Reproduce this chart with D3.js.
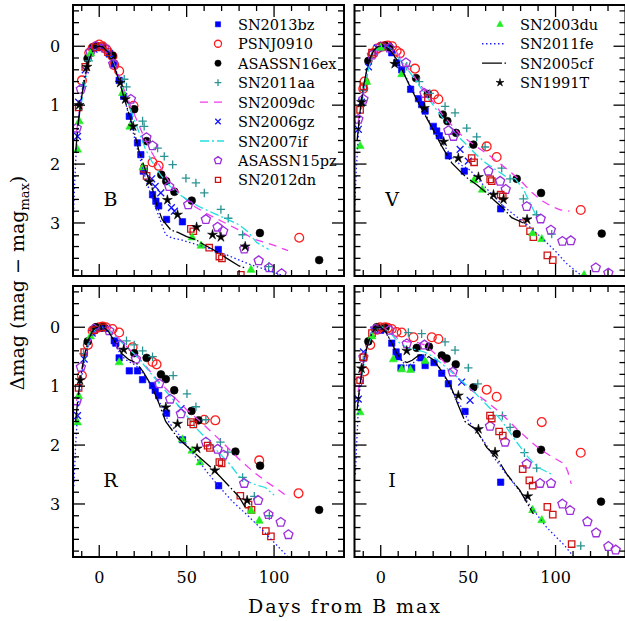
<!DOCTYPE html>
<html>
<head>
<meta charset="utf-8">
<script src="https://cdn.jsdelivr.net/npm/d3@7"></script>
<style>
  body { margin: 0; background: #fff; }
  svg { display: block; }
</style>
</head>
<body>
<div id="chart"></div>
<script>
// ---- data: [days from B max, delta mag] per band ----
const bands = ['B', 'V', 'R', 'I'];
const xTicks = [0, 50, 100];
const yTicks = [0, 1, 2, 3];

const sn2013bz = {
  B: [[-1,0.02],[2,0.02],[5.7,0.13],[8.5,0.3],[11.4,0.58],[14,0.85],[17.2,1.19],[21.9,1.64],[23.8,1.84],[25.2,2.12],[30.5,2.52],[32.4,2.63],[34,2.71],[38.5,2.94],[47.6,2.98],[68.1,3.45]],
  V: [[2,0.0],[6.3,0.11],[9.1,0.28],[12,0.4],[17.1,0.73],[21.6,0.89],[23.4,0.99],[25.4,1.1],[30.1,1.36],[32,1.44],[33.5,1.52],[38.7,1.86],[47.8,2.12],[68.6,2.76]],
  R: [[2,0.0],[8.6,0.23],[9.5,0.27],[11.4,0.52],[17.2,0.74],[21.9,0.74],[24.8,0.89],[30.5,0.99],[32,1.07],[34,1.16],[38.5,1.46],[47.6,1.91],[68.3,2.69]],
  I: [[0,0.05],[6.3,0.27],[8.8,0.42],[10,0.5],[11.6,0.69],[17.7,0.69],[22.9,0.52],[25.4,0.65],[30.5,0.6],[34.9,0.78],[38.7,0.96],[48.2,1.43],[68.6,2.63]]
};
const psnj0910 = {
  B: [[-9.9,0.58],[-5.7,0.11],[-3.8,0.03],[-1.9,0.0],[0,-0.03],[1.9,0.0],[4,0.05],[7.6,0.17],[8.6,0.32],[11.4,0.42],[19.6,1.01],[30.5,1.97],[34,2.03],[114.4,3.25]],
  V: [[-10,0.72],[-9.3,0.6],[-4.2,0.12],[-2,0.04],[0,0.01],[2,0.0],[4,-0.01],[6.5,0.0],[9.1,0.08],[11,0.12],[19.6,0.38],[30.5,0.82],[33,0.9],[60.6,1.7],[66.3,1.88],[114.4,2.78]],
  R: [[-9.9,0.82],[-6.5,0.3],[-3.8,0.06],[-1.9,0.02],[0,0.0],[1.9,-0.01],[3.8,0.0],[7.6,0.03],[11.4,0.09],[19.1,0.34],[30.5,0.59],[32.8,0.63],[60.1,1.57],[66.4,1.58],[91.5,2.26],[114,2.82]],
  I: [[-9.4,0.75],[-6,0.3],[-2,0.04],[-0.4,0.0],[2.5,0.0],[4,0.01],[6.3,0.03],[9,0.08],[12,0.09],[18.7,0.17],[29.2,0.17],[33,0.2],[60.6,1.06],[66.3,1.18],[92.1,1.61],[114.4,2.13]]
};
const asassn16ex = {
  B: [[-6.7,0.21],[-3.5,0.02],[-1.5,0.0],[7.6,0.16],[20,1.07],[27.1,1.61],[35.5,2.18],[38.3,2.29],[43,2.47],[52.9,2.62],[91.9,3.17],[125.8,3.63]],
  V: [[-7.1,0.25],[2.5,-0.01],[5,0.02],[20.2,0.54],[26.9,0.81],[35.5,1.16],[38.1,1.27],[43.1,1.47],[53,1.67],[77.8,2.25],[91.7,2.49],[126.4,3.18]],
  R: [[-6.6,0.24],[-1.9,0.0],[1.9,0.0],[20,0.44],[27.1,0.52],[35.3,0.8],[38.1,0.88],[42.9,1.07],[52.8,1.42],[56.8,1.58],[77.9,2.11],[92,2.35],[125.8,3.1]],
  I: [[-7.1,0.24],[-2.3,0.0],[2.5,0.01],[20.6,0.35],[27.6,0.33],[34.9,0.48],[37.7,0.53],[42.9,0.63],[53,1.02],[77.8,1.81],[91.7,2.08],[126,2.96]]
};
const sn2011aa = {
  B: [[-9.5,0.68],[-6,0.25],[14.3,0.56],[15.6,0.69],[24.8,1.27],[25.7,1.36],[33.4,1.73],[37.2,1.87],[42,2.01],[49.6,2.24],[55.3,2.32],[60.1,2.49],[69.6,2.77],[73.8,2.92],[82,3.2],[96.9,3.74]],
  V: [[-10,0.75],[-5,0.15],[14.9,0.34],[22,0.6],[28,0.8],[36.8,1.02],[42.5,1.13],[49.2,1.39],[54.9,1.54],[59.7,1.71],[69.2,2.07],[74,2.25],[81.6,2.59],[89.2,2.86],[97.8,3.19]],
  R: [[-9,0.45],[15.6,0.23],[20,0.3],[24.8,0.4],[30.5,0.5],[42.3,0.82],[50.2,1.13],[55.3,1.35],[61,1.57],[69.3,1.95],[73.5,2.12],[82,2.55],[88.7,2.87],[97.3,3.2]],
  I: [[-10,0.55],[15.8,0.09],[23.4,0.11],[36.8,0.25],[42.5,0.39],[50.1,0.69],[55.5,0.96],[69.6,1.5],[74,1.7],[82.2,2.13],[89.2,2.39],[114.4,3.71]]
};
const sn2009dc = {
  B: [[-13,1.45],[-10,0.85],[-7,0.38],[-4,0.1],[-1,0.0],[2,0.02],[6,0.15],[10,0.4],[15,0.8],[20,1.15],[25,1.5],[30,1.8],[35,2.05],[40,2.3],[47,2.53],[55,2.73],[62,2.85],[70,2.97],[80,3.12],[88,3.27],[95,3.33],[102,3.4],[108,3.47]],
  V: [[-13,1.3],[-10,0.8],[-7,0.4],[-4,0.15],[-1,0.03],[2,0.0],[5,0.02],[9,0.1],[14,0.3],[20,0.55],[25,0.75],[30,0.95],[35,1.15],[40,1.32],[45,1.48],[50,1.6],[56,1.73],[62,1.85],[68,1.99],[74,2.13],[80,2.28],[86,2.47],[92,2.62],[98,2.72],[103,2.78],[108,2.8]],
  R: [[-13,1.25],[-10,0.75],[-7,0.38],[-4,0.13],[-1,0.02],[2,0.0],[5,0.03],[9,0.12],[14,0.28],[20,0.45],[25,0.6],[30,0.78],[35,0.95],[40,1.1],[45,1.25],[50,1.4],[57,1.58],[65,1.8],[72,2.0],[80,2.24],[88,2.45],[96,2.63],[102,2.75],[109,2.9]],
  I: [[-13,1.1],[-10,0.6],[-7,0.25],[-4,0.07],[-1,0.0],[2,0.02],[6,0.1],[10,0.2],[15,0.25],[20,0.25],[25,0.3],[30,0.42],[35,0.55],[40,0.72],[45,0.88],[50,1.02],[55,1.14],[60,1.25],[68,1.44],[78,1.73],[85,1.92],[91,2.07],[98,2.2],[105,2.32],[107,2.45],[109,2.66]]
};
const sn2006gz = {
  B: [[-12.4,1.53],[-11.8,0.95],[-8,0.4],[-3,0.05],[2,0.02],[6,0.12],[30,2.25],[32,2.38],[35.2,2.49],[41.3,2.74],[43,2.8]],
  V: [[-12.8,1.41],[-11,0.95],[-7,0.35],[-2,0.03],[4,0.0],[45.4,1.75],[50.1,1.95]],
  R: [[-12.4,1.5],[-8.6,0.54],[-4,0.1],[3,0.02],[46.8,1.38]],
  I: [[-12.8,1.22],[-9.9,0.42],[-4,0.05],[46.3,0.93],[51.1,1.24]]
};
const sn2007if = {
  B: [[-12,1.3],[-9,0.75],[-6,0.3],[-3,0.07],[0,0.0],[3,0.02],[7,0.2],[12,0.6],[17,1.0],[22,1.4],[26.5,1.75],[30,1.95],[35,2.18],[40,2.36],[45,2.5],[50,2.6],[57,2.72],[65,2.83],[72,2.92],[80,3.03],[85,3.15],[90,3.33],[97,3.45]],
  V: [[-11,1.0],[-8,0.5],[-5,0.18],[-2,0.03],[1,0.0],[4,0.02],[8,0.12],[13,0.3],[20,0.58],[25,0.8],[30,1.0],[35,1.2],[40,1.38],[45,1.55],[50,1.7],[55,1.85],[60,1.98],[66,2.1],[71,2.2],[77,2.25],[82,2.45],[86,2.7],[89,2.88]],
  R: [[-11,0.95],[-8,0.45],[-5,0.15],[-2,0.02],[1,0.0],[5,0.05],[10,0.18],[15,0.32],[20,0.45],[25,0.62],[30,0.8],[35,0.98],[40,1.15],[45,1.32],[50,1.5],[55,1.7],[60,1.85],[65,2.0],[68,2.12],[74,2.3],[80,2.53],[85,2.62],[90,2.68],[95,2.72],[100,2.85]],
  I: [[-11,0.85],[-8,0.4],[-5,0.12],[-2,0.01],[1,0.0],[5,0.08],[10,0.25],[15,0.35],[20,0.38],[25,0.42],[30,0.5],[35,0.62],[40,0.75],[45,0.88],[52.5,1.07],[60,1.3],[65,1.45],[69,1.58],[77,1.92],[84.4,2.21],[90,2.38],[97.4,2.49]]
};
const asassn15pz = {
  B: [[-12.9,1.39],[-10.5,0.73],[-5,0.1],[-2,0.0],[3,0.03],[8,0.3],[18.1,0.9],[27,1.55],[30.5,1.69],[40,2.38],[50.9,2.69],[61,2.94],[67.7,3.07],[70.9,3.14],[82.9,3.44],[91.2,3.64],[97.2,3.76],[104.3,3.86]],
  V: [[-12.8,1.24],[-9.9,0.9],[-5,0.15],[0,0.01],[5,0.03],[14.4,0.28],[25,0.8],[38.7,1.43],[41.6,1.53],[61.6,2.12],[68.3,2.29],[71.5,2.43],[83.5,2.72],[91.5,2.93],[97.3,3.12],[103.9,3.31],[108.7,3.3],[123,3.76],[130.2,3.85]],
  R: [[-12.9,1.25],[-10.5,0.68],[-3,0.03],[5.7,0.06],[12,0.3],[21,0.54],[34.3,0.96],[40.6,1.22],[46.7,1.47],[61,1.95],[67.7,2.07],[71.1,2.17],[82.9,2.65],[90.9,2.94],[96.8,3.18],[103.8,3.31],[108.2,3.52]],
  I: [[-12.8,0.93],[-9.9,0.51],[-3,0.03],[5,0.05],[14.9,0.28],[25,0.3],[41.2,0.76],[62.5,1.68],[71.1,1.95],[83.5,2.32],[91.1,2.65],[97.4,2.65],[103.9,3.0],[108.3,3.11],[118.2,3.3],[123.2,3.49],[130.2,3.72],[134.4,3.78]]
};
const sn2012dn = {
  B: [[-11.8,1.04],[-8,0.35],[-2,0.02],[1,0.0],[5,0.1],[25.7,2.08],[27.1,2.2],[52.4,3.1],[53.8,3.14],[62.9,3.42],[68.7,3.57],[70.2,3.6],[81,3.88]],
  V: [[-11.8,1.08],[-9.9,0.68],[-5,0.11],[1,0.0],[27,0.88],[52,1.9],[53.4,1.97],[62.6,2.26],[63.5,2.29],[68.6,2.52],[69.8,2.55],[81.2,3.0],[85.4,3.14],[87.3,3.24],[95.3,3.55],[98.4,3.63]],
  R: [[-11.8,1.03],[-8.6,0.42],[-3,0.05],[2,0.0],[52.4,1.61],[53.8,1.65],[62,2.01],[63.3,2.05],[68.7,2.29],[70,2.31],[80.7,2.86],[85.4,3.01],[87.1,3.1],[95.3,3.46],[98.2,3.55]],
  I: [[-11.8,0.9],[-9.9,0.51],[-5,0.1],[0,0.0],[62.5,1.5],[63.5,1.55],[67.7,1.77],[69.8,1.84],[81.2,2.41],[85,2.6],[86.9,2.69],[95.3,3.05],[98.4,3.18],[109.2,3.68]]
};
const sn2003du = {
  B: [[-12.4,1.75],[-11.4,1.27],[-5,0.12],[13.3,0.79],[17.5,1.36],[25,2.05],[53.1,3.24],[58.2,3.38],[86.8,3.79]],
  V: [[-11.8,1.69],[-8,0.6],[0,0.02],[12,0.47],[53.4,2.27],[58.1,2.43],[86.9,3.17],[92.1,3.27],[116.3,3.88]],
  R: [[-12.4,1.61],[-11.8,1.16],[-5,0.15],[11.4,0.59],[47.6,1.9],[53,2.09],[57.6,2.29],[86.8,3.11],[91.5,3.28]],
  I: [[-11.8,1.44],[-5,0.15],[7.2,0.54],[12,0.71],[17,0.72],[25.4,0.57],[86.9,3.1],[92.1,3.27]]
};
const sn2011fe = {
  B: [[-14.8,2.9],[-14,2.3],[-13.2,1.8],[-12.3,1.4],[-11,1.0],[-9,0.6],[-7,0.33],[-5,0.15],[-3,0.05],[-1,0.0],[1,0.0],[3,0.04],[6,0.16],[9,0.36],[12,0.62],[15,0.95],[18,1.3],[21,1.65],[24,1.98],[27,2.3],[30,2.55],[34,2.88],[38,3.2],[42,3.26],[46,3.28],[55,3.36],[65,3.45],[72,3.53],[85,3.69],[100,3.84],[112,3.96]],
  V: [[-14.8,2.7],[-14,2.1],[-13,1.6],[-12,1.2],[-10,0.75],[-8,0.42],[-6,0.2],[-4,0.07],[-2,0.01],[0,0],[2,0.0],[4,0.04],[7,0.13],[10,0.28],[14,0.5],[18,0.73],[22,0.96],[26,1.18],[30,1.38],[34,1.58],[40,1.85],[45,2.0],[51,2.1],[60,2.4],[70,2.71],[78,2.9],[85,3.06],[92,3.25],[100,3.48],[106,3.68],[113,3.85],[117,3.93]],
  R: [[-14.5,2.7],[-13.5,2.0],[-12.5,1.5],[-11,1.05],[-9,0.65],[-7,0.38],[-5,0.18],[-3,0.06],[-1,0.01],[1,0.0],[3,0.03],[6,0.12],[9,0.28],[12,0.45],[15,0.55],[18,0.6],[21,0.65],[25,0.78],[30,1.0],[35,1.3],[40,1.62],[47.6,1.9],[55,2.2],[62,2.47],[69,2.72],[76,2.95],[84,3.17],[92,3.4],[99,3.62],[108,3.9]],
  I: [[-14.5,2.5],[-13.5,1.8],[-12.5,1.2],[-11,0.8],[-9,0.48],[-7,0.25],[-5,0.1],[-3,0.02],[-1,0.0],[1,0.02],[3,0.1],[6,0.25],[9,0.42],[12,0.58],[15,0.65],[18,0.62],[22,0.52],[26,0.5],[30,0.55],[34,0.7],[38,0.92],[42,1.15],[46,1.35],[50,1.58],[55,1.78],[60,1.98],[65,2.22],[72,2.5],[80,2.8],[86,3.05],[95,3.4],[105,3.7],[111,3.92]]
};
const sn2005cf = {
  B: [[-13.5,1.8],[-12,1.3],[-10,0.85],[-8,0.5],[-6,0.25],[-4,0.1],[-2,0.02],[0,0.0],[2,0.01],[5,0.1],[8,0.3],[11,0.55],[14,0.85],[17,1.15],[20,1.45],[23,1.81],[27,2.15],[30.5,2.43],[33,2.7],[36,2.94],[41,3.12],[45,3.16],[50,3.23],[55,3.28],[60,3.37],[65,3.45],[73,3.6],[80,3.73],[83,3.76]],
  V: [[-13.5,1.6],[-12,1.15],[-10,0.7],[-8,0.4],[-6,0.2],[-4,0.07],[-2,0.01],[0,0],[2,0.0],[5,0.05],[9,0.22],[13,0.45],[17,0.7],[21,0.93],[25,1.15],[30,1.42],[35,1.7],[40.6,1.98],[46.3,2.15],[50,2.25],[54.9,2.35],[60.6,2.49],[64.4,2.6],[70,2.75],[74.9,2.91],[81.6,3.0]],
  R: [[-13.5,1.6],[-12,1.15],[-10,0.72],[-8,0.42],[-6,0.2],[-4,0.07],[-2,0.01],[0,0],[2,0.0],[5,0.06],[9,0.25],[13,0.45],[17,0.55],[21,0.6],[25,0.75],[30,1.0],[34,1.28],[38,1.6],[45,1.88],[52,2.07],[57,2.2],[64,2.38],[68,2.5],[75,2.72],[80,2.88],[84,3.08]],
  I: [[-13.5,1.4],[-12,1.0],[-10,0.62],[-8,0.35],[-6,0.16],[-4,0.05],[-2,0.0],[0,0.0],[3,0.08],[6,0.25],[9,0.43],[12,0.56],[15,0.6],[18,0.56],[22,0.47],[26,0.47],[30,0.55],[35,0.75],[40,1.0],[44,1.3],[48.2,1.6],[54.9,1.75],[60.6,2.04],[66.3,2.21],[72,2.49],[79.6,2.77],[87.3,3.17]]
};
const sn1991t = {
  B: [[-11.5,1.0],[-7,0.35],[12,0.62],[14.9,0.9],[19.4,1.36],[28.6,2.3],[39,2.61],[44.8,2.86],[55.7,3.07],[64.8,3.2],[69.6,3.24],[83.5,3.4]],
  V: [[-11,0.95],[8,0.3],[25,1.05],[36,1.62],[44.4,1.9],[55.9,2.22],[64.5,2.52],[70.2,2.6],[83.7,2.94]],
  R: [[-11,0.9],[14,0.38],[38.1,1.36],[44.8,1.64],[56,2.06],[66.1,2.43],[84.6,2.94]],
  I: [[-11,0.7],[14.9,0.4],[44.4,1.16],[55.9,1.73],[65.4,2.12],[84.1,2.87]]
};

// ---- styles ----
const series = [
  { name: 'SN2013bz',   data: sn2013bz,   mark: 'square',   color: '#0000ff', fill: true },
  { name: 'PSNJ0910',   data: psnj0910,   mark: 'circle',   color: '#ff1c1c', fill: false },
  { name: 'ASASSN16ex', data: asassn16ex, mark: 'dot',      color: '#000000', fill: true },
  { name: 'SN2011aa',   data: sn2011aa,   mark: 'plus',     color: '#2b9393' },
  { name: 'SN2009dc',   data: sn2009dc,   dash: '8,6',      color: '#f03cf0' },
  { name: 'SN2006gz',   data: sn2006gz,   mark: 'times',    color: '#1414ff' },
  { name: 'SN2007if',   data: sn2007if,   dash: '9,3,2,3',  color: '#22dede' },
  { name: 'ASASSN15pz', data: asassn15pz, mark: 'pentagon', color: '#9d2fdc', fill: false },
  { name: 'SN2012dn',   data: sn2012dn,   mark: 'square',   color: '#cc1414', fill: false },
  { name: 'SN2003du',   data: sn2003du,   mark: 'triangle', color: '#22ee22', fill: true },
  { name: 'SN2011fe',   data: sn2011fe,   dash: '1.5,2.5',  color: '#2020ff' },
  { name: 'SN2005cf',   data: sn2005cf,   dash: '20,2.5,1.5,2.5', color: '#000000' },
  { name: 'SN1991T',    data: sn1991t,    mark: 'star',     color: '#000000', fill: true }
];

const markSize = { square: 3.2, circle: 4.4, dot: 3.9, plus: 4.2, times: 3.4, pentagon: 4.8, triangle: 4, star: 5.2 };

function markPath(type, r) {
  const p = d3.path();
  if (type === 'square') {
    p.rect(-r, -r, 2 * r, 2 * r);
  } else if (type === 'circle' || type === 'dot') {
    p.moveTo(r, 0); p.arc(0, 0, r, 0, 2 * Math.PI);
  } else if (type === 'plus') {
    p.moveTo(-r, 0); p.lineTo(r, 0); p.moveTo(0, -r); p.lineTo(0, r);
  } else if (type === 'times') {
    p.moveTo(-r, -r); p.lineTo(r, r); p.moveTo(-r, r); p.lineTo(r, -r);
  } else if (type === 'triangle') {
    p.moveTo(0, -r * 1.1); p.lineTo(r, r * 0.7); p.lineTo(-r, r * 0.7); p.closePath();
  } else if (type === 'pentagon' || type === 'star') {
    const n = type === 'star' ? 10 : 5;
    for (let k = 0; k < n; k++) {
      const a = -Math.PI / 2 + k * 2 * Math.PI / n;
      const rr = (type === 'star' && k % 2) ? r * 0.33 : r;
      if (k === 0) p.moveTo(rr * Math.cos(a), rr * Math.sin(a));
      else p.lineTo(rr * Math.cos(a), rr * Math.sin(a));
    }
    p.closePath();
  }
  return p.toString();
}

function styleMark(sel, s) {
  const filled = s.fill && s.mark !== 'plus' && s.mark !== 'times';
  sel.attr('fill', filled ? s.color : 'none')
    .attr('stroke', s.color)
    .attr('stroke-width', filled ? 0.6 : 1.3);
}

// ---- layout ----
const W = 625, H = 621;
const size = 271;
const font = 'DejaVu Serif, serif';
const panels = [
  { band: 'B', x: 73,    y: 5,   left: true,  bottom: false },
  { band: 'V', x: 354.5, y: 5,   left: false, bottom: false },
  { band: 'R', x: 73,    y: 286, left: true,  bottom: true },
  { band: 'I', x: 354.5, y: 286, left: false, bottom: true }
];

const svg = d3.select('#chart').append('svg')
  .attr('width', W).attr('height', H)
  .style('font-family', font);

const x = d3.scaleLinear().domain([-15, 140]).range([0, size]);
const y = d3.scaleLinear().domain([-0.7, 3.9]).range([0, size]);

const line = d3.line().x(d => x(d[0])).y(d => y(d[1]));

panels.forEach((pn, i) => {
  const g = svg.append('g').attr('transform', `translate(${pn.x},${pn.y})`);
  const clipId = 'clip' + i;
  g.append('clipPath').attr('id', clipId)
    .append('rect').attr('width', size).attr('height', size);
  const plot = g.append('g').attr('clip-path', `url(#${clipId})`);

  series.forEach(s => {
    const pts = s.data[pn.band];
    if (s.dash) {
      plot.append('path').datum(pts)
        .attr('d', line)
        .attr('fill', 'none')
        .attr('stroke', s.color)
        .attr('stroke-width', 1.3)
        .attr('stroke-dasharray', s.dash);
    } else {
      plot.append('g').selectAll('path').data(pts).join('path')
        .attr('transform', d => `translate(${x(d[0])},${y(d[1])})`)
        .attr('d', markPath(s.mark, markSize[s.mark]))
        .call(styleMark, s);
    }
  });

  // ticks on all four sides
  const xMinor = d3.range(-10, 141, 10);
  const yMinor = d3.range(-0.6, 3.81, 0.2).map(v => +v.toFixed(1));
  const tk = g.append('g').attr('stroke', '#000').attr('stroke-width', 1.3);
  xMinor.forEach(v => {
    const len = v % 50 === 0 ? 12 : 6;
    tk.append('line').attr('x1', x(v)).attr('x2', x(v)).attr('y1', size).attr('y2', size - len);
    tk.append('line').attr('x1', x(v)).attr('x2', x(v)).attr('y1', 0).attr('y2', len);
  });
  yMinor.forEach(v => {
    const len = Math.abs(v - Math.round(v)) < 1e-6 ? 12 : 6;
    tk.append('line').attr('y1', y(v)).attr('y2', y(v)).attr('x1', 0).attr('x2', len);
    tk.append('line').attr('y1', y(v)).attr('y2', y(v)).attr('x1', size).attr('x2', size - len);
  });

  g.append('rect').attr('width', size).attr('height', size)
    .attr('fill', 'none').attr('stroke', '#000').attr('stroke-width', 2);

  if (pn.left) {
    g.selectAll('.ylab').data(yTicks).join('text')
      .attr('x', -18).attr('y', d => y(d) + 6)
      .attr('text-anchor', 'middle').attr('font-size', 16)
      .text(d => d);
  }
  if (pn.bottom) {
    g.selectAll('.xlab').data(xTicks).join('text')
      .attr('x', d => x(d)).attr('y', size + 26)
      .attr('text-anchor', 'middle').attr('font-size', 16)
      .text(d => d);
  }

  g.append('text').attr('x', 37.5).attr('y', 201)
    .attr('text-anchor', 'middle').attr('font-size', 19)
    .text(pn.band);
});

// ---- legends ----
function legend(list, mx, tx, y0, step) {
  const lg = svg.append('g');
  list.forEach((s, i) => {
    const yy = y0 + i * step;
    if (s.dash) {
      lg.append('line').attr('x1', mx - 18).attr('x2', mx + 6)
        .attr('y1', yy).attr('y2', yy)
        .attr('stroke', s.color).attr('stroke-width', 1.3)
        .attr('stroke-dasharray', s.dash);
    } else {
      lg.append('path')
        .attr('transform', `translate(${mx},${yy})`)
        .attr('d', markPath(s.mark, markSize[s.mark] * 0.8))
        .call(styleMark, s);
    }
    lg.append('text').attr('x', tx).attr('y', yy + 5.5)
      .attr('font-size', 14.5).text(s.name);
  });
}
legend(series.slice(0, 9), 218, 238, 24.3, 19.45);
legend(series.slice(9), 500, 520, 24.3, 19.45);

// ---- axis titles ----
svg.append('text')
  .attr('x', 344).attr('y', 613)
  .attr('text-anchor', 'middle').attr('font-size', 19)
  .attr('textLength', 192).attr('lengthAdjust', 'spacing')
  .text('Days from B max');

const yt = svg.append('text')
  .attr('transform', 'translate(24,283) rotate(-90)')
  .attr('text-anchor', 'middle').attr('font-size', 19);
yt.append('tspan').text('\u0394mag (mag \u2212 mag');
yt.append('tspan').attr('font-size', 13).attr('dy', 5).text('max');
yt.append('tspan').attr('dy', -5).text(')');
</script>
</body>
</html>
